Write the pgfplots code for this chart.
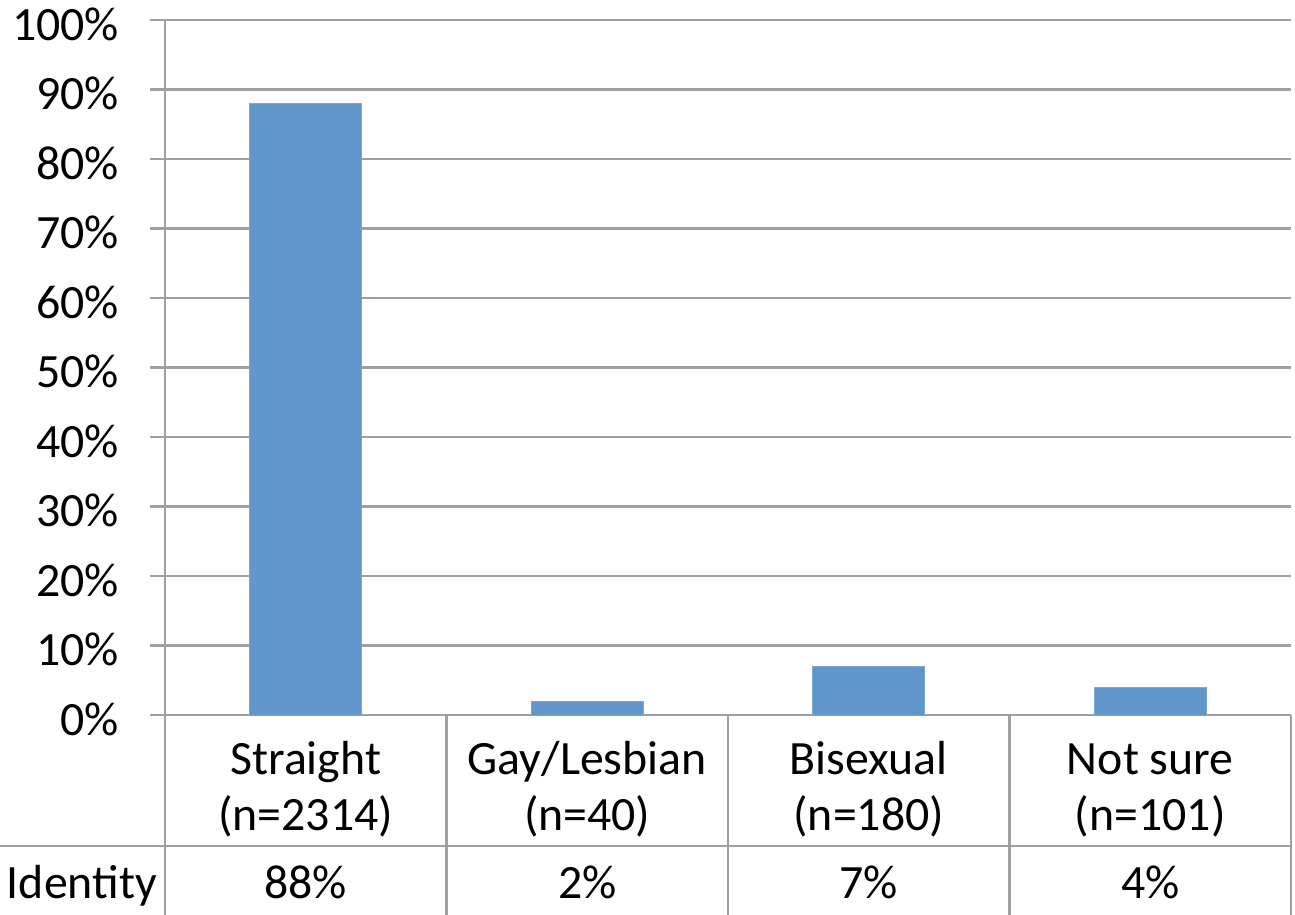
\documentclass[border=0pt]{standalone}
\usepackage{fontspec}
\setmainfont{Carlito}
\usepackage{pgfplots}
\pgfplotsset{compat=1.18}
\definecolor{barblue}{HTML}{6196CB}
\definecolor{gridgray}{HTML}{A0A0A0}
\newcommand{\chartfont}{\fontsize{24}{28}\selectfont}
\begin{document}
\begin{tikzpicture}
\begin{axis}[
    name=ax,
    scale only axis,
    width=563bp, height=347.5bp,
    xmin=-0.5, xmax=3.5,
    ymin=0, ymax=100,
    clip=false,
    axis x line*=bottom,
    axis y line*=left,
    axis line style={gridgray, line width=1.2bp},
    ytick={0,10,...,100},
    yticklabel={\pgfmathprintnumber{\tick}\%},
    /pgf/number format/assume math mode=true,
    ymajorgrids,
    major grid style={gridgray, line width=1.2bp},
    tick align=outside,
    major tick length=7.5bp,
    ytick style={gridgray, line width=1.2bp},
    xtick={0,1,2,3},
    xtick style={draw=none},
    xticklabels={{\strut Straight\\[0.5bp](n=2314)},{\strut Gay/Lesbian\\[0.5bp](n=40)},{\strut Bisexual\\[0.5bp](n=180)},{\strut Not sure\\[0.5bp](n=101)}},
    xticklabel style={align=center, anchor=north, yshift=1bp},
    yticklabel style={anchor=east, xshift=-12bp, yshift=-2bp},
    every tick label/.append style={font=\chartfont},
]
\addplot[ybar, bar width=56bp, fill=barblue, draw=barblue!85!white] coordinates {
    (0,88) (1,2) (2,7) (3,4)
};
% data table below the axis
\draw[gridgray, line width=1.2bp] (axis cs:-0.5,0) -- (axis cs:-0.5,-30);
\draw[gridgray, line width=1.2bp] (axis cs:0.5,0) -- (axis cs:0.5,-30);
\draw[gridgray, line width=1.2bp] (axis cs:1.5,0) -- (axis cs:1.5,-30);
\draw[gridgray, line width=1.2bp] (axis cs:2.5,0) -- (axis cs:2.5,-30);
\draw[gridgray, line width=1.2bp] (axis cs:3.5,0) -- (axis cs:3.5,-30);
\draw[gridgray, line width=1.2bp] (axis cs:-1.1,-18.85) -- (axis cs:3.5,-18.85);
\node[anchor=base west, font=\chartfont, inner sep=0] at (axis cs:-1.063,-26.33) {Identity};
\node[anchor=base, font=\chartfont, inner sep=0] at (axis cs:0,-26.33) {88\%};
\node[anchor=base, font=\chartfont, inner sep=0] at (axis cs:1,-26.33) {2\%};
\node[anchor=base, font=\chartfont, inner sep=0] at (axis cs:2,-26.33) {7\%};
\node[anchor=base, font=\chartfont, inner sep=0] at (axis cs:3,-26.33) {4\%};
\end{axis}
\pgfresetboundingbox
\path[use as bounding box] ([xshift=-82.5bp,yshift=-99.5bp]ax.south west) rectangle ([xshift=2bp,yshift=10bp]ax.north east);
\end{tikzpicture}
\end{document}
